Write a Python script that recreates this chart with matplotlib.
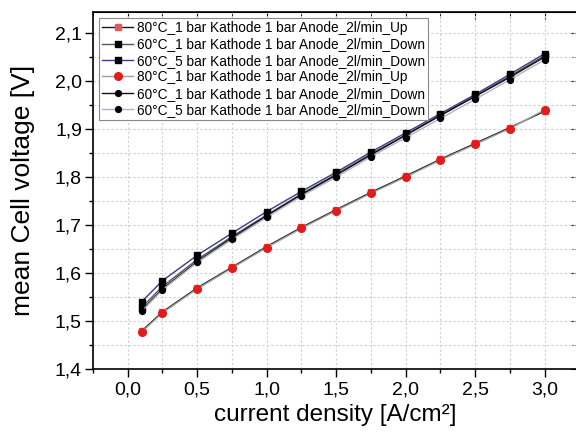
import matplotlib
matplotlib.use("Agg")
import matplotlib.pyplot as plt
from matplotlib.ticker import MultipleLocator, FuncFormatter

plt.rcParams['font.family'] = ['Liberation Sans', 'DejaVu Sans']

x = [0.1, 0.25, 0.5, 0.75, 1.0, 1.25, 1.5, 1.75, 2.0, 2.25, 2.5, 2.75, 3.0]

labels = [
    "80°C_1 bar Kathode 1 bar Anode_2l/min_Up",
    "60°C_1 bar Kathode 1 bar Anode_2l/min_Down",
    "60°C_5 bar Kathode 1 bar Anode_2l/min_Down",
    "80°C_1 bar Kathode 1 bar Anode_2l/min_Up",
    "60°C_1 bar Kathode 1 bar Anode_2l/min_Down",
    "60°C_5 bar Kathode 1 bar Anode_2l/min_Down",
]

s1 = [1.479, 1.519, 1.569, 1.612, 1.655, 1.695, 1.732, 1.768, 1.802, 1.837, 1.870, 1.903, 1.937]
s2 = [1.528, 1.572, 1.628, 1.676, 1.721, 1.765, 1.806, 1.848, 1.888, 1.929, 1.969, 2.010, 2.053]
s3 = [1.540, 1.584, 1.637, 1.683, 1.728, 1.770, 1.810, 1.852, 1.892, 1.932, 1.972, 2.014, 2.057]
s4 = [1.477, 1.517, 1.567, 1.610, 1.653, 1.693, 1.730, 1.766, 1.800, 1.835, 1.868, 1.901, 1.940]
s5 = [1.522, 1.567, 1.624, 1.673, 1.719, 1.763, 1.804, 1.846, 1.887, 1.928, 1.968, 2.008, 2.050]
s6 = [1.520, 1.565, 1.622, 1.670, 1.716, 1.760, 1.800, 1.842, 1.882, 1.922, 1.962, 2.003, 2.044]

series = [s1, s2, s3, s4, s5, s6]
line_colors = ['#1a1a1a', '#555555', '#3a3a8a', '#a0a0a0', '#111111', '#b0b0c8']
markers = ['s', 's', 's', 'o', 'o', 'o']
marker_colors = ['#e05a5a', '#000000', '#000000', '#e21b1b', '#000000', '#000000']
msizes = [4.5, 4.5, 4.5, 5.5, 4.2, 4.2]

fig = plt.figure(figsize=(5.76, 4.32), dpi=100)
ax = fig.add_axes([93/576, 63/432, 485/576, 357/432])

for ys, lc, m, mc, ms, lab in zip(series, line_colors, markers, marker_colors, msizes, labels):
    ax.plot(x, ys, color=lc, lw=1.0, marker=m, markersize=ms,
            markerfacecolor=mc, markeredgecolor=mc, label=lab)

ax.set_xlim(-0.25, 3.24)
ax.set_ylim(1.4, 1.4 + 357/480)

ax.xaxis.set_major_locator(MultipleLocator(0.5))
ax.xaxis.set_minor_locator(MultipleLocator(0.25))
ax.yaxis.set_major_locator(MultipleLocator(0.1))
ax.yaxis.set_minor_locator(MultipleLocator(0.05))

ax.xaxis.set_major_formatter(FuncFormatter(lambda v, p: f"{v:.1f}".replace('.', ',')))
ax.yaxis.set_major_formatter(FuncFormatter(lambda v, p: f"{v:.1f}".replace('.', ',')))

ax.grid(True, which='both', color='#cfcfcf', linestyle=(0, (2, 2)), linewidth=0.8)
ax.set_axisbelow(True)

ax.tick_params(axis='both', which='major', direction='out', length=6, width=1,
               labelsize=14, pad=2)
ax.tick_params(axis='x', which='major', pad=3)
ax.tick_params(axis='both', which='minor', direction='out', length=3, width=1)

# inward ticks on top/right
axt = ax.secondary_xaxis('top')
axt.xaxis.set_major_locator(MultipleLocator(0.5))
axt.xaxis.set_minor_locator(MultipleLocator(0.25))
axt.tick_params(which='major', direction='in', length=5, labeltop=False)
axt.tick_params(which='minor', direction='in', length=4)
axt.set_xticklabels([])
axr = ax.secondary_yaxis('right')
axr.yaxis.set_major_locator(MultipleLocator(0.1))
axr.yaxis.set_minor_locator(MultipleLocator(0.05))
axr.tick_params(which='major', direction='in', length=5, labelright=False)
axr.tick_params(which='minor', direction='in', length=4)
axr.set_yticklabels([])

for sp in ax.spines.values():
    sp.set_linewidth(1.2)

ax.set_xlabel("current density [A/cm²]", fontsize=17.5, labelpad=4)
ax.set_ylabel("mean Cell voltage [V]", fontsize=19, labelpad=14)

leg = ax.legend(loc='upper left', fontsize=9.8, frameon=True, fancybox=False,
                edgecolor='#888888', framealpha=1, handlelength=2.3,
                handletextpad=0.3, labelspacing=0.18, borderpad=0.2,
                borderaxespad=0.45)
leg.get_frame().set_linewidth(0.8)

fig.savefig("out.png", dpi=100)
